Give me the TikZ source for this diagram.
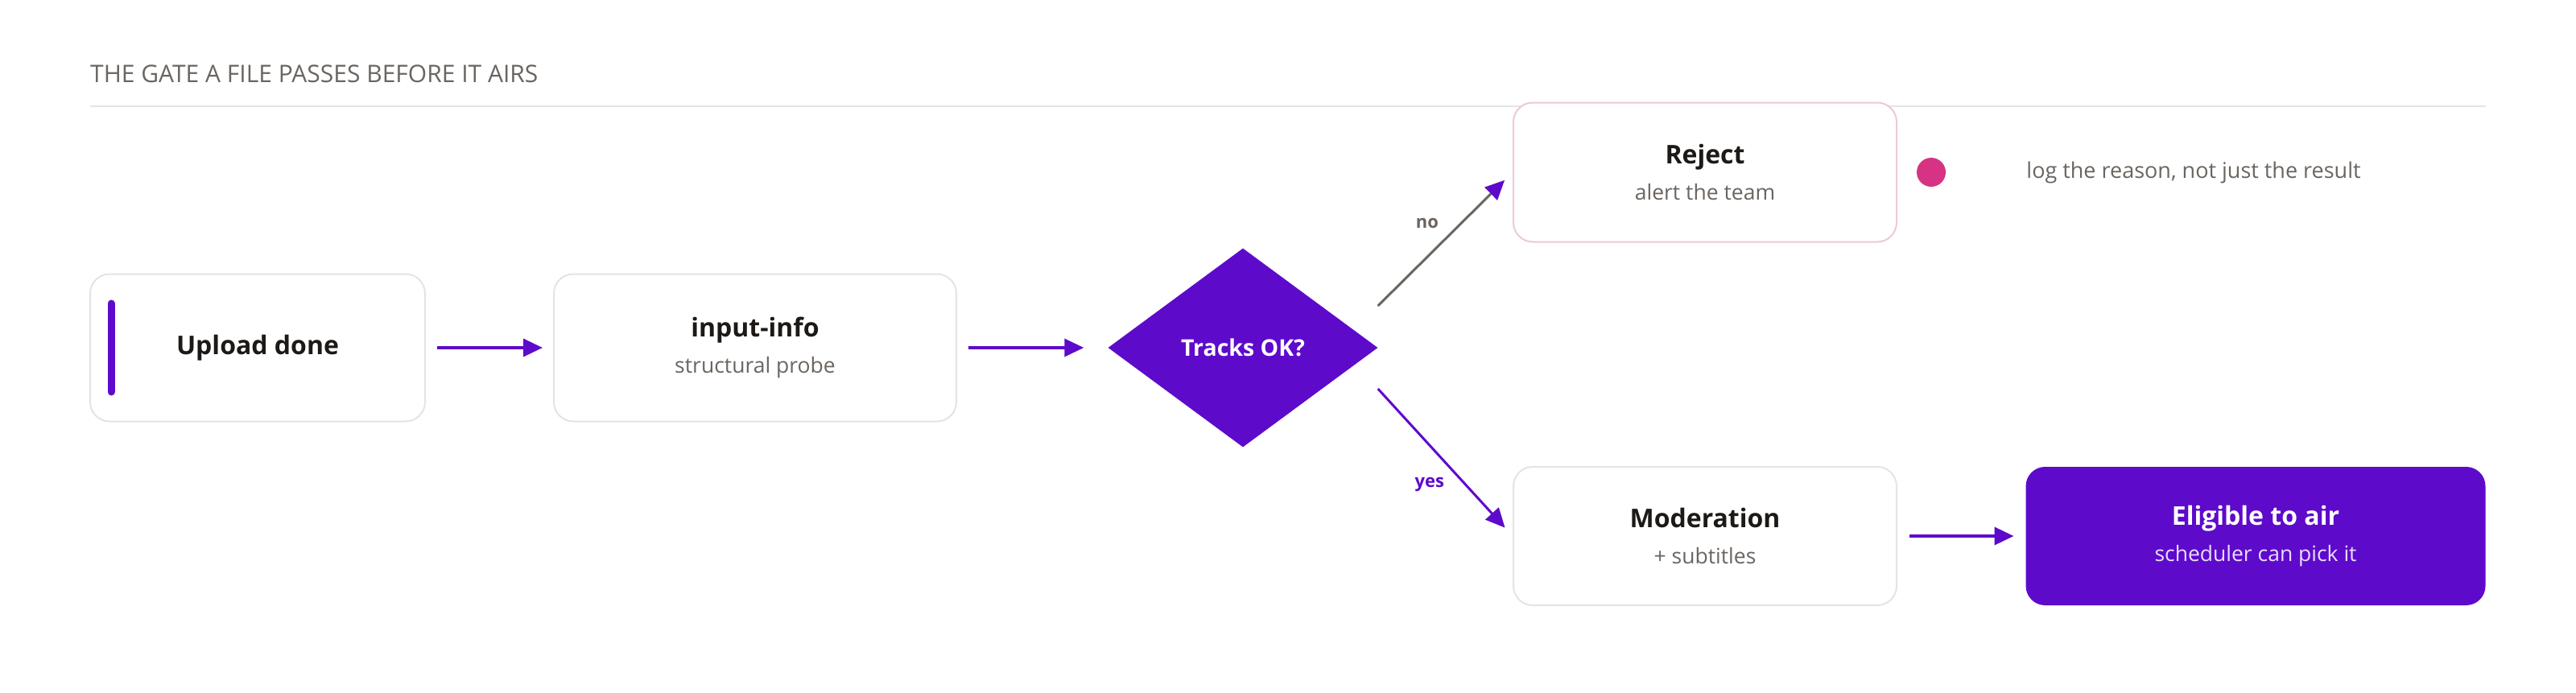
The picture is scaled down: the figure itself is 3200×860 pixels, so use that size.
\documentclass[tikz,border=0pt]{standalone}
\usepackage{fontspec}
\setmainfont{Open Sans}
\usetikzlibrary{arrows.meta, positioning, shapes.geometric, calc}

\definecolor{brand}{HTML}{5E0ACB}
\definecolor{ink}{HTML}{1C1917}
\definecolor{muted}{HTML}{6B6560}
\definecolor{edge}{HTML}{E4E4E7}
\definecolor{rejectedge}{HTML}{ECC9DA}
\definecolor{alert}{HTML}{D63384}
\definecolor{lilac}{HTML}{E9DDFF}

\newcommand{\subline}[1]{{\fontsize{26.5}{45}\selectfont\mdseries #1}}

\begin{document}
\begin{tikzpicture}[x=1pt, y=-1pt,
    card/.style={draw=edge, line width=2pt, rounded corners=24pt, fill=white,
        align=center, inner sep=0pt, text=ink,
        font=\fontsize{32}{45}\selectfont\bfseries},
    flow/.style={draw=brand, line width=3.5pt, -{Triangle[length=24pt, width=22pt]}},
    tag/.style={inner sep=0pt, font=\fontsize{22}{26}\selectfont\bfseries}
]

    \fill[white] (0,0) rectangle (3200,860);
    \useasboundingbox (0,0) rectangle (3200,860);

    \node[right, inner sep=0pt, text=muted, font=\fontsize{30}{34}\selectfont] (title) at (112,92) {THE GATE A FILE PASSES BEFORE IT AIRS};
    \draw[edge, line width=2pt] (112,132) -- (3088,132);

    \node[card, minimum width=416pt, minimum height=183pt] (upload) at (320,432) {Upload done};
    \draw[brand, line width=9pt, line cap=round] ($(upload.west)+(27,-55)$) -- ($(upload.west)+(27,55)$);

    \node[card, minimum width=500pt, minimum height=183pt] (probe) at (938,432) {input-info\\\textcolor{muted}{\subline{structural probe}}};

    \node[diamond, fill=brand, text=white, inner sep=0pt, aspect=1.356,
          minimum width=335pt, minimum height=247pt,
          font=\fontsize{28.5}{32}\selectfont\bfseries] (gate) at (1544,432) {Tracks OK?};

    \node[card, draw=rejectedge, minimum width=476pt, minimum height=173pt] (reject) at (2118,214) {Reject\\\textcolor{muted}{\subline{alert the team}}};
    \node[card, minimum width=476pt, minimum height=172pt] (moderation) at (2118,666) {Moderation\\\textcolor{muted}{\subline{+ subtitles}}};
    \node[card, draw=none, fill=brand, text=white, minimum width=571pt, minimum height=172pt] (eligible) at (2802,666) {Eligible to air\\\textcolor{lilac}{\subline{scheduler can pick it}}};

    \node[circle, fill=alert, inner sep=0pt, minimum size=36pt] (dot) at (2399,214) {};
    \node[right=100pt of dot, inner sep=0pt, text=muted, font=\fontsize{27}{32}\selectfont] (note) {log the reason, not just the result};

    \coordinate (noStart) at ($(gate.east)+(0,-52)$);
    \coordinate (yesStart) at ($(gate.east)+(0,51)$);

    \draw[flow, shorten <=14pt, shorten >=13pt] (upload) -- (probe);
    \draw[flow, shorten <=14pt, shorten >=30pt] (probe) -- (gate);
    \draw[flow, draw=muted, line width=3pt, -{Triangle[length=24pt, width=22pt, color=brand]}, shorten >=14pt]
        (noStart) -- node[tag, text=muted, pos=.62, left=27pt] {no} (reject.west);
    \draw[flow, line width=3pt, shorten >=14pt]
        (yesStart) -- node[tag, text=brand, pos=.65, left=25pt] {yes} (moderation.west);
    \draw[flow, shorten <=15pt, shorten >=14pt] (moderation) -- (eligible);

\end{tikzpicture}
\end{document}
